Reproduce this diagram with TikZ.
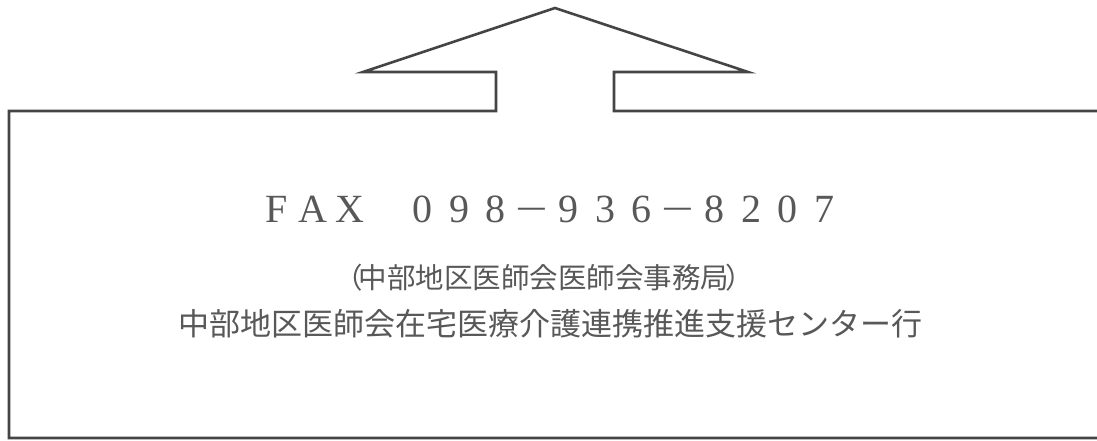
\documentclass[tikz,border=0pt]{standalone}
\usepackage{fontspec}
\newfontfamily\jpfont{Noto Sans CJK JP}
\newfontfamily\faxfont{Liberation Serif}
\definecolor{linegray}{HTML}{454545}
\definecolor{textgray}{HTML}{585858}
\newcommand\fwc[1]{\makebox[36.5pt][c]{#1}}
\newcommand\fwdash{\makebox[36.5pt][c]{\scalebox{1.45}[1]{−}}}
\begin{document}
\begin{tikzpicture}[x=1pt,y=-1pt,
  outline/.style={draw=linegray,line width=2.6pt,line join=miter},
  faxtext/.style={inner sep=0pt,text=textgray,font=\faxfont\fontsize{40}{40}\selectfont},
  subtext/.style={inner sep=0pt,text=textgray,font=\jpfont\fontsize{28.5}{28.5}\selectfont},
  maintext/.style={inner sep=0pt,text=textgray,font=\jpfont\fontsize{31}{31}\selectfont}]
\useasboundingbox (0,0) rectangle (1097,441);
% outline coordinates
\coordinate (tr) at (1098,111);
\coordinate (sr) at (614,111);
\coordinate (srt) at (614,72);
\coordinate (hr) at (748,72);
\coordinate (apex) at (555,8);
\coordinate (hl) at (363,72);
\coordinate (slt) at (496,72);
\coordinate (sl) at (496,111);
\coordinate (tl) at (9,111);
\coordinate (bl) at (9,438);
\coordinate (br) at (1098,438);
\draw[outline] (tr) -- (sr) -- (srt) -- (hr) -- (apex) -- (hl) -- (slt) -- (sl) -- (tl) -- (bl) -- (br);
% texts
\node[faxtext,anchor=base] (fax) at (550.5,222)
  {\fwc{F}\fwc{A}\fwc{X}\fwc{ }\fwc{0}\fwc{9}\fwc{8}\fwdash\fwc{9}\fwc{3}\fwc{6}\fwdash\fwc{8}\fwc{2}\fwc{0}\fwc{7}};
\node[subtext] (office) at (544,277.5) {（\kern-0.15em 中部地区医師会医師会事務局\kern-0.15em）};
\node[maintext] (center) at (550,323.5) {中部地区医師会在宅医療介護連携推進支援センター行};
\end{tikzpicture}
\end{document}
